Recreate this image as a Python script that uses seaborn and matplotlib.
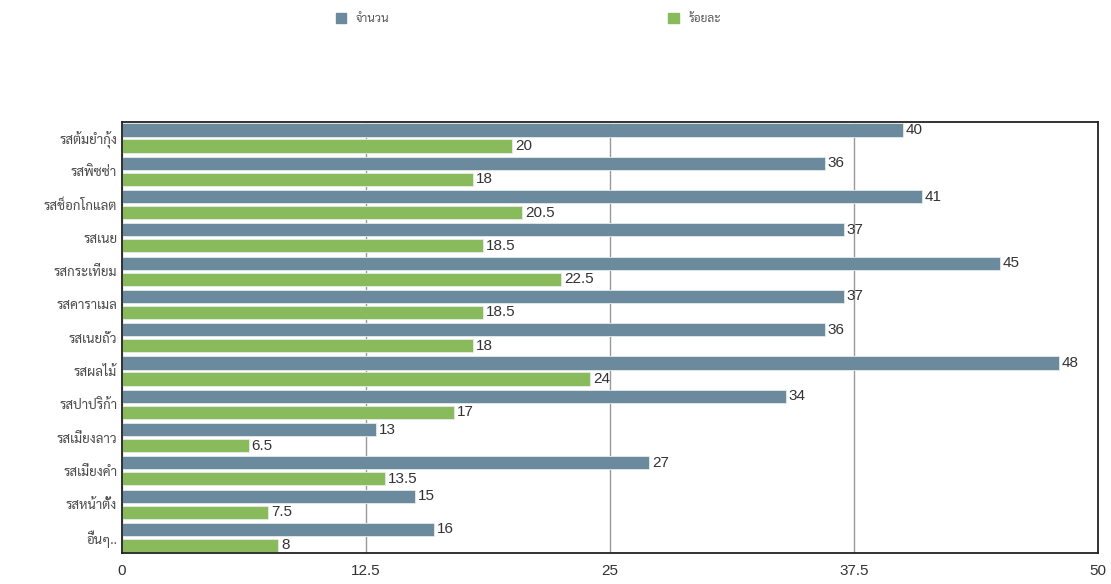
import matplotlib
matplotlib.use("Agg")
import matplotlib.pyplot as plt
import pandas as pd
import seaborn as sns

# datos
sabores = ['รสต้มยำกุ้ง', 'รสพิซซ่า', 'รสช็อกโกแลต', 'รสเนย', 'รสกระเทียม', 'รสคาราเมล',
           'รสเนยถั่ว', 'รสผลไม้', 'รสปาปริก้า', 'รสเมี่ยงลาว', 'รสเมี่ยงคำ', 'รสหน้าตั้ง', 'อื่นๆ..']
jumnuan = [40, 36, 41, 37, 45, 37, 36, 48, 34, 13, 27, 15, 16]
roiyala = [20, 18, 20.5, 18.5, 22.5, 18.5, 18, 24, 17, 6.5, 13.5, 7.5, 8]
series_names = ['จำนวน', 'ร้อยละ']
xticks = [0, 12.5, 25, 37.5, 50]
xtick_labels = ['0', '12.5', '25', '37.5', '50']

df = pd.DataFrame({
    'sabor': sabores * 2,
    'valor': jumnuan + roiyala,
    'serie': [series_names[0]] * len(sabores) + [series_names[1]] * len(sabores),
})

sns.set_style('white')
plt.rcParams['font.family'] = ['Liberation Sans', 'Sarabun', 'DejaVu Sans']

fig = plt.figure(figsize=(11.11, 5.84), dpi=100)
ax = fig.add_axes([0.1098, 0.053, 0.8784, 0.738])

sns.barplot(data=df, y='sabor', x='valor', hue='serie', orient='h',
            palette=['#6b8a9e', '#89bb5c'], width=0.96, gap=0.18,
            saturation=1, ax=ax, legend=False, edgecolor='#e6ece8', linewidth=0.6)

for cont in ax.containers:
    ax.bar_label(cont, labels=['%g' % v for v in cont.datavalues], padding=2,
                 fontsize=11, color='#333333')

ax.set_xlim(0, 50)
ax.set_ylim(12.47, -0.48)
ax.set_xticks(xticks)
ax.set_xticklabels(xtick_labels, fontsize=11, color='#333333')
ax.tick_params(axis='both', length=0)
ax.tick_params(axis='x', pad=8)
for lbl in ax.get_yticklabels():
    lbl.set_family(['Sarabun', 'DejaVu Sans'])
    lbl.set_fontsize(9.5)
    lbl.set_color('#4a4a4a')
ax.set_xlabel('')
ax.set_ylabel('')
ax.xaxis.grid(True, color='#999999', linewidth=1)
ax.set_axisbelow(True)
for s in ax.spines.values():
    s.set_color('#222222')
    s.set_linewidth(1.3)

handles = [plt.Rectangle((0, 0), 1, 1, color=c) for c in ['#6b8a9e', '#89bb5c']]
fig.legend(handles, series_names, loc='center', bbox_to_anchor=(0.4755, 0.968), ncol=2,
           frameon=False, handlelength=0.9, handleheight=0.9, columnspacing=23.6,
           prop={'family': ['Sarabun'], 'size': 8.5}, labelcolor='#555555')

fig.savefig('out.png', dpi=100)
